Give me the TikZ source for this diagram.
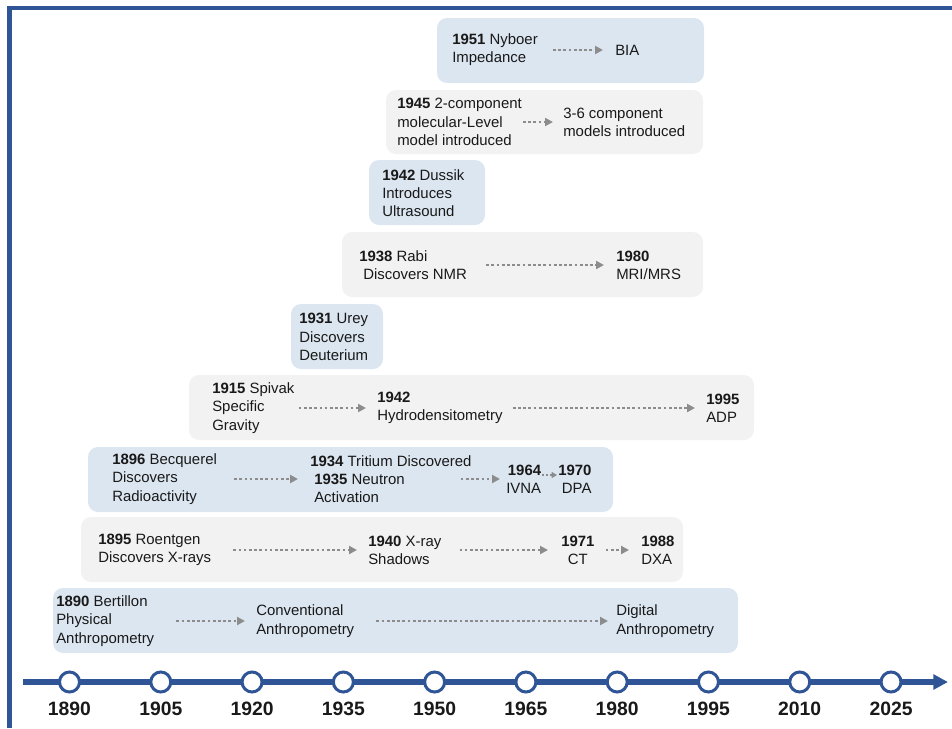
\documentclass[tikz,border=0pt]{standalone}
\usepackage{fontspec}
\setmainfont{Liberation Sans}
\usetikzlibrary{arrows.meta}
\definecolor{lineblue}{RGB}{47,85,151}
\definecolor{boxblue}{RGB}{220,230,241}
\definecolor{boxgray}{RGB}{242,242,242}
\definecolor{dotgray}{RGB}{140,140,140}
\definecolor{ink}{RGB}{25,25,25}

\begin{document}
\begin{tikzpicture}[x=0.75pt, y=-0.75pt,
    txt/.style={anchor=west, align=left, inner sep=0pt, text=ink, font=\fontsize{11.2pt}{13.7pt}\selectfont},
    bluebox/.style={fill=boxblue, rounded corners=7.5pt},
    graybox/.style={fill=boxgray, rounded corners=7.5pt},
    dotarr/.style={draw=dotgray, line width=2pt, dash pattern=on 2pt off 1.9pt, -{Triangle[length=6pt, width=6pt]}},
    tdot/.style={circle, draw=lineblue, line width=2.25pt, fill=white, minimum size=15pt, inner sep=0pt},
    tyear/.style={inner sep=0pt, text=ink, font=\fontsize{14.5pt}{16pt}\selectfont\bfseries},
    axis/.style={draw=lineblue, line width=4.5pt, -{Triangle[length=11pt, width=11pt]}}]
    \useasboundingbox (0,0) rectangle (952,728);
    \draw [lineblue, line width=3.2pt] (9.5,728) -- (9.5,8) -- (952,8);

    \fill [bluebox] (437,18) rectangle (704,83);
    \node [txt] (nyb) at (452,50) {\textbf{1951} Nyboer\\Impedance};
    \node [txt] (bia) at (615,50) {BIA};
    \draw [dotarr, shorten <=11.25pt, shorten >=9pt] (nyb.east) -- (bia.west);

    \fill [graybox] (386,90) rectangle (703,154);
    \node [txt] (twoc) at (397,122) {\textbf{1945} 2-component\\molecular-Level\\model introduced};
    \node [txt] (threec) at (563,122) {3-6 component\\models introduced};
    \draw [dotarr, shorten <=0.75pt, shorten >=7.5pt] (twoc.east) -- (threec.west);

    \fill [bluebox] (369,160) rectangle (485,225);
    \node [txt] (dus) at (382,193) {\textbf{1942} Dussik\\Introduces\\Ultrasound};

    \fill [graybox] (342,232) rectangle (703,297);
    \node [txt] (rabi) at (359,265) {\textbf{1938} Rabi\\\hspace*{3pt}Discovers NMR};
    \node [txt] (mri) at (616,265) {\textbf{1980}\\MRI/MRS};
    \draw [dotarr, shorten <=14.25pt, shorten >=9pt] (rabi.east) -- (mri.west);

    \fill [bluebox] (291,304) rectangle (383,369);
    \node [txt] (urey) at (299,337) {\textbf{1931} Urey\\Discovers\\Deuterium};

    \fill [graybox] (189,375) rectangle (754,440);
    \node [txt] (spiv) at (212,408) {\textbf{1915} Spivak\\Specific\\Gravity};
    \node [txt] (hyd) at (377,408) {\textbf{1942}\\Hydrodensitometry};
    \node [txt] (adp) at (706,408) {\textbf{1995}\\ADP};
    \draw [dotarr, shorten <=3pt, shorten >=8.25pt] (spiv.east) -- (hyd.west);
    \draw [dotarr, shorten <=7.5pt, shorten >=8.25pt] (hyd.east) -- (adp.west);

    \fill [bluebox] (88,447) rectangle (613,512);
    \node [txt] (becq) at (112,479) {\textbf{1896} Becquerel\\Discovers\\Radioactivity};
    \node [txt] (trit) at (310,479) {\textbf{1934} Tritium Discovered\\\hspace*{3pt}\textbf{1935} Neutron\\\hspace*{3pt}Activation};
    \node [txt, align=right] (ivna) at (506,479) {\textbf{1964}\\IVNA};
    \node [txt, align=right] (dpa) at (558,479) {\textbf{1970}\\DPA};
    \draw [dotarr, shorten <=12.75pt, shorten >=9pt] (becq.east) -- (trit.west);
    \draw [dotarr, shorten <=-8.25pt, shorten >=4.5pt] (trit.east) -- (ivna.west);
    \draw [dotarr, line width=1.5pt, dash pattern=on 1.5pt off 1.5pt, -{Triangle[length=4pt, width=4.5pt]}, shorten <=0.75pt, shorten >=0.75pt] ([yshift=3pt]ivna.east) -- ([yshift=3pt]dpa.west);

    \fill [graybox] (81,517) rectangle (683,582);
    \node [txt] (roen) at (98,550) {\textbf{1895} Roentgen\\Discovers X-rays};
    \node [txt] (xray) at (368,550) {\textbf{1940} X-ray\\Shadows};
    \node [txt, align=center] (ct) at (561,550) {\textbf{1971}\\CT};
    \node [txt] (dxa) at (641,550) {\textbf{1988}\\DXA};
    \draw [dotarr, shorten <=16.5pt, shorten >=8.25pt] (roen.east) -- (xray.west);
    \draw [dotarr, shorten <=13.5pt, shorten >=9.75pt] (xray.east) -- (ct.west);
    \draw [dotarr, shorten <=8.25pt, shorten >=9pt] (ct.east) -- (dxa.west);

    \fill [bluebox] (53,588) rectangle (738,653);
    \node [txt] (bert) at (56,621) {\textbf{1890} Bertillon\\Physical\\Anthropometry};
    \node [txt] (conv) at (256,621) {Conventional\\Anthropometry};
    \node [txt] (digi) at (616,621) {Digital\\Anthropometry};
    \draw [dotarr, shorten <=16.5pt, shorten >=8.25pt] (bert.east) -- (conv.west);
    \draw [dotarr, shorten <=16.5pt, shorten >=6pt] (conv.east) -- (digi.west);

    \coordinate (tstart) at (23,682);
    \coordinate (tend) at (948,682);
    \draw [axis] (tstart) -- (tend);
    \foreach \yr [count=\i from 0] in {1890,1905,...,2025} {
        \node [tdot] (c\yr) at (69.5+91.28*\i, 682) {};
        \node [tyear] (y\yr) at (69.5+91.28*\i, 709) {\yr};
    }
\end{tikzpicture}
\end{document}
